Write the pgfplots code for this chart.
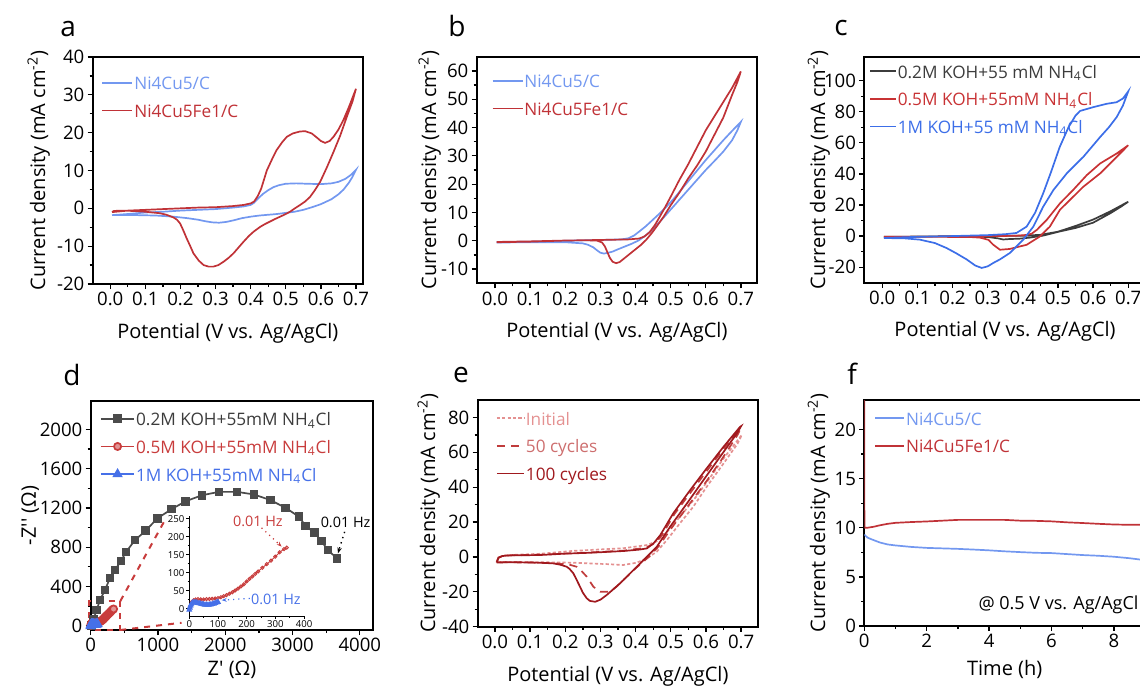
\documentclass[border=0pt]{standalone}
\usepackage{fontspec}
\setmainfont{Open Sans}
\usepackage{pgfplots}
\pgfplotsset{compat=1.18}
\usetikzlibrary{arrows.meta}

\definecolor{blueA}{RGB}{115,152,240}
\definecolor{redA}{RGB}{192,50,55}
\definecolor{blkC}{RGB}{60,60,60}
\definecolor{redC}{RGB}{200,50,52}
\definecolor{blueC}{RGB}{60,110,232}
\definecolor{grayD}{RGB}{75,75,75}
\definecolor{redD}{RGB}{200,60,60}
\definecolor{blueD}{RGB}{70,112,232}
\definecolor{eIni}{RGB}{228,145,145}
\definecolor{eFifty}{RGB}{192,60,60}
\definecolor{eFiftyT}{RGB}{205,110,110}
\definecolor{eHund}{RGB}{160,25,30}

\newcommand\ticksize{\fontsize{9.3}{11}\selectfont}
\newcommand\labsize{\fontsize{11.4}{13}\selectfont}
\newcommand\legsize{\fontsize{8.6}{10}\selectfont}
\newcommand\letsize{\fontsize{14}{16}\selectfont}

\pgfplotsset{
  ylabat/.style={every axis y label/.style={at={(axis description cs:0,0.5)},
      xshift=-#1, rotate=90, anchor=base}},
  xlabat/.style={every axis x label/.style={at={(axis description cs:0.5,0)},
      yshift=-#1, anchor=base}},
  panel/.style={
    scale only axis, anchor=south west,
    axis line style={line width=0.9pt},
    tick pos=left, tick align=outside,
    major tick length=2.5pt, minor tick length=1.5pt,
    every tick/.style={line width=0.65pt,black},
    minor tick num=1,
    tick label style={font=\ticksize, inner sep=1.5pt},
    /pgf/number format/assume math mode=true,
    /pgf/number format/1000 sep={},
    scaled ticks=false,
    label style={font=\labsize},
    legend style={draw=none, fill=none, inner sep=0pt, outer sep=0pt, font=\legsize,
      anchor=north west, row sep=4.85pt,
      nodes={inner sep=0.5pt, text height=6.5pt, text depth=1.5pt}},
    legend cell align=left,
    legend image code/.code={\draw[#1] (0pt,1pt) -- (15pt,1pt);},
    every axis plot/.append style={line width=0.85pt},
  },
  cv/.style={panel,
    xtick={0,0.1,0.2,0.3,0.4,0.5,0.6,0.7},
    xticklabel style={/pgf/number format/.cd,fixed,fixed zerofill,precision=1},
    xlabel={Potential (V vs. Ag/AgCl)},
    ylabel={Current density (mA cm\textsuperscript{-2})},
    xlabat=27pt},
}

\begin{document}
\begin{tikzpicture}
\useasboundingbox (0,0) rectangle (570pt,343.5pt);
\clip (0,0) rectangle (570pt,343.5pt);

% panel letters
\node[font=\letsize, anchor=base west, inner sep=0] at (30pt,325.15pt) {a};
\node[font=\letsize, anchor=base west, inner sep=0] at (224pt,325.15pt) {b};
\node[font=\letsize, anchor=base west, inner sep=0] at (417pt,325.5pt) {c};
\node[font=\letsize, anchor=base west, inner sep=0] at (31.5pt,151pt) {d};
\node[font=\letsize, anchor=base west, inner sep=0] at (226.3pt,152.35pt) {e};
\node[font=\letsize, anchor=base west, inner sep=0] at (423.5pt,151.5pt) {f};

% ---------- a ----------
\begin{axis}[cv, at={(46.35pt,201.5pt)}, width=135.15pt, height=113.5pt,
  xmin=-0.05, xmax=0.72, ymin=-20, ymax=40, ytick={-20,-10,...,40},
  ylabat=23.85pt,
  legend style={at={(0.033,0.917)}}]
\addplot[blueA] coordinates {
(0.005,-1.8) (0.05,-1.5) (0.1,-1.1) (0.15,-0.9) (0.2,-0.6) (0.25,-0.4) (0.3,-0.2) (0.35,0.2)
(0.38,0.5) (0.40,0.9) (0.41,1.5) (0.42,2.5) (0.435,3.8) (0.45,4.8) (0.465,5.6) (0.48,6.1)
(0.5,6.5) (0.53,6.6) (0.56,6.5) (0.6,6.4) (0.63,6.6) (0.65,7.0) (0.67,7.8) (0.685,8.8) (0.7,10.2)
(0.69,8.3) (0.68,6.8) (0.665,5.0) (0.65,3.7) (0.63,2.4) (0.6,1.1) (0.575,0.3) (0.55,-0.4)
(0.525,-0.9) (0.5,-1.2) (0.475,-1.5) (0.45,-1.7) (0.425,-1.9) (0.4,-2.2) (0.375,-2.6) (0.35,-3.2)
(0.33,-3.6) (0.31,-3.8) (0.29,-3.7) (0.27,-3.4) (0.25,-3.0) (0.22,-2.6) (0.18,-2.2) (0.13,-1.9)
(0.08,-1.8) (0.03,-1.8) (0.005,-1.8)};
\addlegendentry[text=blueA]{Ni4Cu5/C}
\addplot[redA] coordinates {
(0.005,-1.0) (0.05,-0.6) (0.1,-0.4) (0.15,-0.2) (0.2,0) (0.25,0.2) (0.3,0.3) (0.35,0.6)
(0.38,0.9) (0.40,1.3) (0.41,1.8) (0.42,3.2) (0.43,5.2) (0.446,10) (0.46,12.8) (0.474,15.4)
(0.49,17.5) (0.503,18.9) (0.52,19.8) (0.54,20.3) (0.555,20.4) (0.574,19.8) (0.59,18.6) (0.6,17.8)
(0.612,17.3) (0.625,17.8) (0.636,18.9) (0.65,20.8) (0.664,23.3) (0.68,26.8) (0.7,31.6)
(0.69,28.2) (0.674,24.2) (0.655,19.2) (0.636,14.9) (0.617,10.8) (0.598,7) (0.583,4.8) (0.569,3)
(0.555,1.8) (0.541,0.9) (0.526,0) (0.512,-0.9) (0.498,-1.6) (0.484,-2.2) (0.47,-2.8) (0.455,-3.5)
(0.44,-4.2) (0.427,-4.9) (0.408,-6.2) (0.395,-7.3) (0.38,-8.8) (0.365,-10.4) (0.351,-11.9)
(0.337,-13.1) (0.323,-14.1) (0.308,-15) (0.294,-15.4) (0.28,-15.4) (0.266,-15) (0.252,-13.8)
(0.237,-11.9) (0.228,-10) (0.218,-8) (0.208,-5.8) (0.199,-4) (0.19,-3) (0.18,-2.4) (0.16,-1.7)
(0.142,-1.3) (0.1,-0.9) (0.066,-0.7) (0.03,-0.6) (0.01,-0.7) (0.005,-1.0)};
\addlegendentry[text=redA]{Ni4Cu5Fe1/C}
\end{axis}

% ---------- b ----------
\begin{axis}[cv, at={(238.35pt,201.85pt)}, width=140.15pt, height=113.3pt,
  xmin=-0.052, xmax=0.746, ymin=-15, ymax=65, ytick={-10,0,...,60},
  ylabat=20.35pt,
  legend style={at={(0.0535,0.925)}}]
\addplot[blueA] coordinates {
(0.005,-0.5) (0.1,-0.3) (0.2,0) (0.3,0.3) (0.36,0.5) (0.38,0.9) (0.395,1.8) (0.41,3.2)
(0.43,5.2) (0.45,7.5) (0.47,9.8) (0.49,12.3) (0.51,15) (0.55,21) (0.6,28.5) (0.625,32)
(0.65,35.5) (0.675,38.8) (0.7,42)
(0.69,39) (0.675,35.5) (0.65,31.5) (0.625,28.2) (0.6,25) (0.575,21.5) (0.55,18) (0.525,14.5)
(0.5,11) (0.475,7.5) (0.45,4.2) (0.43,2) (0.41,0.2) (0.39,-1) (0.37,-2) (0.35,-3) (0.335,-3.8)
(0.32,-4.3) (0.31,-4.5) (0.3,-4.2) (0.29,-3.3) (0.28,-2.3) (0.265,-1.4) (0.25,-0.9) (0.2,-0.5)
(0.1,-0.5) (0.005,-0.6)};
\addlegendentry[text=blueA]{Ni4Cu5/C}
\addplot[redA] coordinates {
(0.005,-0.4) (0.05,-0.3) (0.1,-0.2) (0.2,0.1) (0.3,0.3) (0.38,0.5) (0.41,0.8) (0.425,1.5)
(0.44,3) (0.455,5.5) (0.47,8.7) (0.485,12) (0.5,15.5) (0.525,21.5) (0.55,27) (0.575,33)
(0.6,39) (0.625,44) (0.65,49) (0.675,54) (0.7,59.8)
(0.69,56) (0.675,51.5) (0.65,43.5) (0.625,37.5) (0.6,31.5) (0.575,26.5) (0.55,22) (0.525,17)
(0.5,12.5) (0.48,8.5) (0.46,5) (0.445,2.5) (0.43,0.3) (0.415,-1.5) (0.4,-3) (0.385,-4.5)
(0.37,-6) (0.355,-7.5) (0.345,-7.9) (0.335,-7.4) (0.327,-6) (0.32,-4) (0.313,-2) (0.305,-0.6)
(0.29,0.1) (0.25,0.2) (0.2,0.1) (0.1,-0.3) (0.005,-0.5)};
\addlegendentry[text=redA]{Ni4Cu5Fe1/C}
\end{axis}

% ---------- c ----------
\begin{axis}[cv, at={(432.15pt,202.15pt)}, width=140.75pt, height=112.7pt,
  xmin=-0.051, xmax=0.75, ymin=-30, ymax=115, ytick={-20,0,...,100},
  ylabat=19.65pt,
  legend image code/.code={\draw[#1] (0pt,1pt) -- (12.85pt,1pt);},
  legend style={at={(0.018,0.97)}}]
\addplot[blkC] coordinates {
(0.005,-0.5) (0.1,-0.3) (0.2,-0.1) (0.3,0) (0.4,0.2) (0.45,0.8) (0.5,2.8) (0.55,6.5)
(0.6,10.6) (0.65,16) (0.7,22.1)
(0.68,19) (0.65,14.8) (0.6,8.6) (0.55,5.2) (0.506,3) (0.458,0.3) (0.42,-1.0) (0.39,-1.7)
(0.363,-1.9) (0.344,-2.2) (0.33,-1.5) (0.3,-0.6) (0.25,-0.3)};
\addlegendentry[text=blkC]{0.2M KOH+55 mM NH\textsubscript{4}Cl}
\addplot[redC] coordinates {
(0.005,-0.5) (0.1,-0.4) (0.2,-0.3) (0.3,-0.1) (0.38,0.2) (0.41,0.7) (0.425,1.5) (0.44,4)
(0.468,10.4) (0.506,21.1) (0.543,29.6) (0.582,39.2) (0.62,46.7) (0.667,53.1) (0.7,58.4)
(0.667,50.9) (0.62,40.3) (0.572,31.7) (0.534,23.2) (0.506,17) (0.477,6.1) (0.449,-0.2)
(0.411,-5.6) (0.363,-8.3) (0.335,-8.8) (0.316,-5.6) (0.302,-2.4) (0.278,-1.0) (0.25,-0.6)
(0.15,-0.5) (0.005,-0.5)};
\addlegendentry[text=redC]{0.5M KOH+55mM NH\textsubscript{4}Cl}
\addplot[blueC] coordinates {
(0.005,-1.2) (0.1,-0.5) (0.2,0) (0.3,0.6) (0.35,1.2) (0.382,2) (0.411,6.1) (0.435,15)
(0.458,27.5) (0.48,41) (0.505,57.3) (0.53,70) (0.55,77.5) (0.563,80.5) (0.6,82.9) (0.639,85.1)
(0.667,86.1) (0.685,88.5) (0.7,93.1)
(0.685,84) (0.667,76.5) (0.645,70) (0.62,63.7) (0.572,50.9) (0.525,40.3) (0.487,29.6)
(0.458,18.9) (0.43,6.1) (0.401,-2.4) (0.363,-10.9) (0.335,-15) (0.316,-17.3) (0.3,-19.5)
(0.283,-20.5) (0.265,-19) (0.24,-15) (0.21,-11) (0.183,-7.7) (0.15,-4.5) (0.107,-2.3)
(0.06,-1.4) (0.005,-1.3)};
\addlegendentry[text=blueC]{1M KOH+55 mM NH\textsubscript{4}Cl}
\end{axis}

% ---------- d ----------
\begin{axis}[panel, at={(45.35pt,28.5pt)}, width=141.3pt, height=114.5pt,
  xmin=0, xmax=4200, ymin=-44, ymax=2290, clip=false,
  xtick={0,1000,...,4000}, ytick={0,400,...,2000},
  xlabel={Z\textquotesingle{} (Ω)}, ylabel={-Z\textquotesingle\textquotesingle{} (Ω)},
  xlabat=22.5pt, ylabat=27.35pt,
  legend image code/.code={\draw[#1,mark repeat=2,mark phase=2] plot coordinates {(0pt,1pt) (8.35pt,1pt) (16.7pt,1pt)};},
  legend style={at={(0.033,0.953)}}]
\addplot[grayD, mark=square*, mark size=1.75pt] coordinates {
(10,0) (40,60) (89,160) (138,261) (212,363) (286,485) (361,567) (450,660) (524,750) (657,872)
(816,967) (989,1093) (1202,1188) (1414,1269) (1656,1330) (1909,1364) (2176,1364) (2428,1337)
(2671,1280) (2898,1201) (3096,1110) (3195,1015) (3329,947) (3428,862) (3526,770) (3660,686)};
\addlegendentry[text=blkC]{0.2M KOH+55mM NH\textsubscript{4}Cl}
\addplot[redD, mark=*, mark size=1.8pt, mark options={fill=redD!55}] coordinates {
(2,5) (8,19) (15,24) (22,26) (30,27) (40,26) (50,26) (60,27) (70,27) (80,28) (90,29) (100,30)
(110,32) (120,35) (130,38) (140,42) (150,46) (160,51) (170,56) (180,62) (190,68) (200,76)
(210,83) (220,90) (230,97) (240,104) (255,114) (270,124) (285,134) (300,145) (315,157)
(330,166) (340,170)};
\addlegendentry[text=redD]{0.5M KOH+55mM NH\textsubscript{4}Cl}
\addplot[blueD, mark=triangle*, mark size=2.2pt] coordinates {
(0,-3) (2,3) (4,8) (6,12) (9,15) (12,17) (16,18) (20,18) (25,17) (30,16) (35,15) (40,14)
(45,13) (50,12) (55,11) (60,11) (65,11) (70,11) (75,12) (80,13) (85,14) (90,16) (95,17) (100,19)};
\addlegendentry[text=blueD]{1M KOH+55mM NH\textsubscript{4}Cl}
\draw[redD, dashed, line width=1pt] (axis cs:-20,-44) rectangle (axis cs:440,250);
\draw[redD, dashed, line width=1pt] (axis cs:440,250) -- (axis cs:1103,1076);
\draw[redD, dashed, line width=1pt] (axis cs:440,-44) -- (axis cs:1350,30);
\draw[black, dotted, line width=0.7pt, -{Stealth[length=3pt]}] (axis cs:3774,957) -- (axis cs:3674,737);
\node[font=\fontsize{7.2}{8}\selectfont, text=black, inner sep=0] at (axis cs:3788,1050) {0.01 Hz};
\end{axis}

% inset of d
\begin{axis}[at={(94.65pt,35.5pt)}, anchor=south west, scale only axis,
  width=57.35pt, height=50pt, xmin=0, xmax=400, ymin=-20, ymax=258,
  axis x line*=bottom, axis y line*=left, axis line style={line width=0.5pt},
  tick align=outside, major tick length=1.5pt, minor tick length=0.9pt,
  every tick/.style={line width=0.4pt,black}, minor tick num=1,
  xtick={0,100,...,400}, ytick={0,50,...,250},
  tick label style={font=\fontsize{4.8}{5}\selectfont, inner sep=0.8pt},
  /pgf/number format/assume math mode=true, clip=false]
\addplot[redD, line width=0.45pt, mark=o, mark size=0.8pt] coordinates {
(2,5) (8,19) (15,24) (22,26) (30,27) (40,26) (50,26) (60,27) (70,27) (80,28) (90,29) (100,30)
(110,32) (120,35) (130,38) (140,42) (150,46) (160,51) (170,56) (180,62) (190,68) (200,76)
(210,83) (220,90) (230,97) (240,104) (255,114) (270,124) (285,134) (300,145) (315,157)
(330,166) (340,170)};
\addplot[blueD, line width=0.6pt, mark=triangle*, mark size=1.2pt] coordinates {
(0,-3) (2,3) (4,8) (6,12) (9,15) (12,17) (16,18) (20,18) (25,17) (30,16) (35,15) (40,14)
(45,13) (50,12) (55,11) (60,11) (65,11) (70,11) (75,12) (80,13) (85,14) (90,16) (95,17) (100,19)};
\draw[redD, dotted, line width=0.6pt, -{Stealth[length=2.5pt]}] (axis cs:252,225) -- (axis cs:322,173);
\node[font=\fontsize{7.2}{8}\selectfont, text=redD, inner sep=0] at (axis cs:239,243) {0.01 Hz};
\draw[blueD, dotted, line width=0.6pt, -{Stealth[length=2.5pt]}] (axis cs:211,29) -- (axis cs:113,24);
\node[font=\fontsize{7.2}{8}\selectfont, text=blueD, inner sep=0] at (axis cs:302,27) {0.01 Hz};
\end{axis}

% ---------- e ----------
\begin{axis}[cv, at={(238.85pt,30.15pt)}, width=140.15pt, height=113.35pt,
  xmin=-0.049, xmax=0.748, ymin=-40, ymax=90, ytick={-40,-20,...,80},
  ylabat=21.35pt, xlabat=27.5pt,
  legend image code/.code={\draw[#1] (0pt,1pt) -- (13.65pt,1pt);},
  legend style={at={(0.065,0.951)}}]
\addplot[eIni, dash pattern=on 1.6pt off 1.1pt] coordinates {
(0.005,-2.8) (0.01,-0.3) (0.03,1) (0.128,1.8) (0.223,3.5) (0.365,5) (0.432,6.8) (0.46,9)
(0.49,14.5) (0.53,24) (0.57,34) (0.61,45) (0.65,56.5) (0.702,70)
(0.69,65) (0.65,53.6) (0.602,40.2) (0.564,28.8) (0.526,19.3) (0.489,9.7) (0.46,3) (0.432,-0.8)
(0.403,-3.3) (0.365,-4.6) (0.318,-4.1) (0.223,-3.3) (0.128,-3) (0.005,-2.8)};
\addlegendentry[text=eIni]{Initial}
\addplot[eFifty, dash pattern=on 4pt off 3pt] coordinates {
(0.005,-3.0) (0.01,-0.3) (0.03,0.8) (0.128,1.3) (0.27,2.6) (0.365,3.6) (0.43,5.3) (0.455,8)
(0.475,12.5) (0.51,24.5) (0.56,38) (0.605,50) (0.65,62) (0.698,73.5)
(0.69,70) (0.645,56) (0.6,43) (0.55,29.5) (0.5,16) (0.465,6) (0.44,0.5) (0.4,-6.5) (0.356,-15)
(0.346,-17) (0.327,-19.9) (0.299,-19.9) (0.28,-17.1) (0.261,-11.3) (0.245,-7.8) (0.232,-5.6)
(0.21,-4.3) (0.166,-3.6) (0.1,-3.2) (0.005,-3.0)};
\addlegendentry[text=eFiftyT]{50 cycles}
\addplot[eHund] coordinates {
(0.005,-3.2) (0.01,-0.5) (0.02,0.5) (0.04,0.9) (0.128,1.1) (0.2,1.9) (0.27,2.4) (0.365,3.4)
(0.41,4.2) (0.432,4.9) (0.451,7.8) (0.47,12.5) (0.507,25) (0.555,38.3) (0.602,50.8) (0.65,63.2)
(0.697,74.6) (0.7,75)
(0.688,70.8) (0.64,57.4) (0.593,44.1) (0.546,30.7) (0.498,17.3) (0.46,5.8) (0.432,0.1)
(0.394,-7.5) (0.356,-15.1) (0.318,-21.8) (0.3,-24.5) (0.285,-25.7) (0.27,-25.2) (0.261,-23.7)
(0.25,-20.5) (0.242,-17.1) (0.232,-13) (0.223,-9.4) (0.212,-6.8) (0.204,-5.6) (0.185,-4.4)
(0.166,-3.7) (0.128,-3.3) (0.05,-3.0) (0.005,-3.2)};
\addlegendentry[text=eHund]{100 cycles}
\end{axis}

% ---------- f ----------
\begin{axis}[panel, at={(432.15pt,30.5pt)}, width=140.4pt, height=113pt,
  xmin=0, xmax=9, ymin=0, ymax=23, xtick={0,2,...,8}, ytick={0,5,...,20},
  xlabel={Time (h)}, ylabel={Current density (mA cm\textsuperscript{-2})},
  xlabat=24.5pt, ylabat=19.65pt,
  legend image code/.code={\draw[#1] (0pt,1pt) -- (14.5pt,1pt);},
  legend style={at={(0.036,0.951)}}]
\addplot[blueA] coordinates {
(0,9.3) (0.1,9.0) (0.25,8.8) (0.5,8.5) (0.75,8.3) (1,8.2) (1.5,8.05) (2,7.95) (2.5,7.9)
(3,7.85) (3.5,7.78) (4,7.7) (4.5,7.6) (5,7.52) (5.5,7.45) (6,7.42) (6.5,7.32) (7,7.22)
(7.5,7.15) (8,7.05) (8.5,6.9) (9,6.7)};
\addlegendentry[text=blueA]{Ni4Cu5/C}
\addplot[redA] coordinates {
(0,23) (0.002,12) (0.01,10.0) (0.1,10.0) (0.3,10.1) (0.5,10.25) (0.75,10.4) (1,10.5)
(1.5,10.58) (2,10.64) (2.5,10.72) (3,10.8) (3.5,10.8) (4,10.8) (4.5,10.8) (5,10.72) (5.5,10.7)
(6,10.65) (6.5,10.55) (7,10.48) (7.5,10.4) (8,10.33) (8.5,10.3) (9,10.3)};
\addlegendentry[text=redA]{Ni4Cu5Fe1/C}
\node[font=\fontsize{9}{10}\selectfont, anchor=base east, inner sep=0] at (axis cs:8.8,1.63) {@ 0.5 V vs. Ag/AgCl};
\end{axis}
\end{tikzpicture}
\end{document}
